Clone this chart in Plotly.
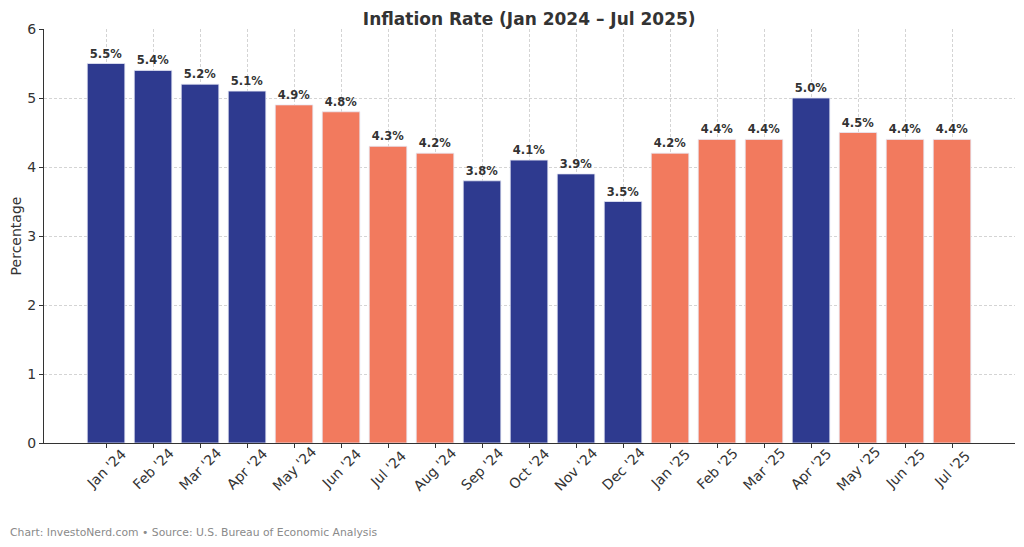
import plotly.graph_objects as go

months = ["Jan '24", "Feb '24", "Mar '24", "Apr '24", "May '24", "Jun '24", "Jul '24", "Aug '24",
          "Sep '24", "Oct '24", "Nov '24", "Dec '24", "Jan '25", "Feb '25", "Mar '25", "Apr '25",
          "May '25", "Jun '25", "Jul '25"]
rates = [5.5, 5.4, 5.2, 5.1, 4.9, 4.8, 4.3, 4.2, 3.8, 4.1, 3.9, 3.5, 4.2, 4.4, 4.4, 5.0, 4.5, 4.4, 4.4]
NAVY = "#2e3a8f"
CORAL = "#f27a5e"
bar_colors = [NAVY, NAVY, NAVY, NAVY, CORAL, CORAL, CORAL, CORAL, NAVY, NAVY, NAVY, NAVY,
              CORAL, CORAL, CORAL, NAVY, CORAL, CORAL, CORAL]
y_ticks = [0, 1, 2, 3, 4, 5, 6]

FONT = "DejaVu Sans"

fig = go.Figure()
fig.add_trace(go.Bar(
    x=months, y=rates,
    marker=dict(color=bar_colors, line=dict(color="#e6e9f5", width=0.8)),
    width=0.8,
    text=[f"<b>{v:.1f}%</b>" for v in rates],
    textposition="outside",
    textfont=dict(family=FONT, size=11.5, color="#333333"),
    cliponaxis=False,
    hoverinfo="x+y",
))

fig.update_layout(
    width=1024, height=547,
    margin=dict(l=36, r=17, t=21, b=112),
    paper_bgcolor="white", plot_bgcolor="white",
    font=dict(family=FONT, color="#333333"),
    title=dict(text="<b>Inflation Rate (Jan 2024 – Jul 2025)</b>",
               x=0.509, xanchor="center", y=0.979, yanchor="middle",
               font=dict(family=FONT, size=17, color="#333333")),
    showlegend=False,
    bargap=0.2,
)
fig.update_xaxes(
    range=[-1.32, 19.34],
    showticklabels=False,
    showline=True, linecolor="#333333", linewidth=1,
    ticks="outside", ticklen=4, tickcolor="#333333",
    showgrid=True, gridcolor="#d4d4d4", griddash="3px,2px", gridwidth=0.8,
    layer="above traces",
    automargin=False,
)
fig.update_yaxes(
    range=[0, 6],
    tickvals=y_ticks,
    tickfont=dict(family=FONT, size=14, color="#333333"),
    title=dict(text="Percentage", font=dict(family=FONT, size=14, color="#333333"), standoff=8),
    showline=True, linecolor="#333333", linewidth=1,
    ticks="outside", ticklen=4, tickcolor="#333333",
    showgrid=True, gridcolor="#d4d4d4", griddash="3px,2px", gridwidth=0.8,
    zeroline=False,
    layer="above traces",
    automargin=False,
)
# rotated category labels, centred under each tick (matplotlib style)
for m in months:
    fig.add_annotation(
        text=m, x=m, xref="x", y=-0.063, yref="paper",
        xanchor="center", yanchor="middle", textangle=-45,
        showarrow=False, font=dict(family=FONT, size=14, color="#333333"),
    )
fig.add_annotation(
    text="Chart: InvestoNerd.com • Source: U.S. Bureau of Economic Analysis",
    xref="paper", yref="paper", x=-0.0371, y=-0.215, xanchor="left", yanchor="middle",
    showarrow=False, font=dict(family=FONT, size=10.8, color="#8a8a8a"),
)

fig.write_html("out.html")
